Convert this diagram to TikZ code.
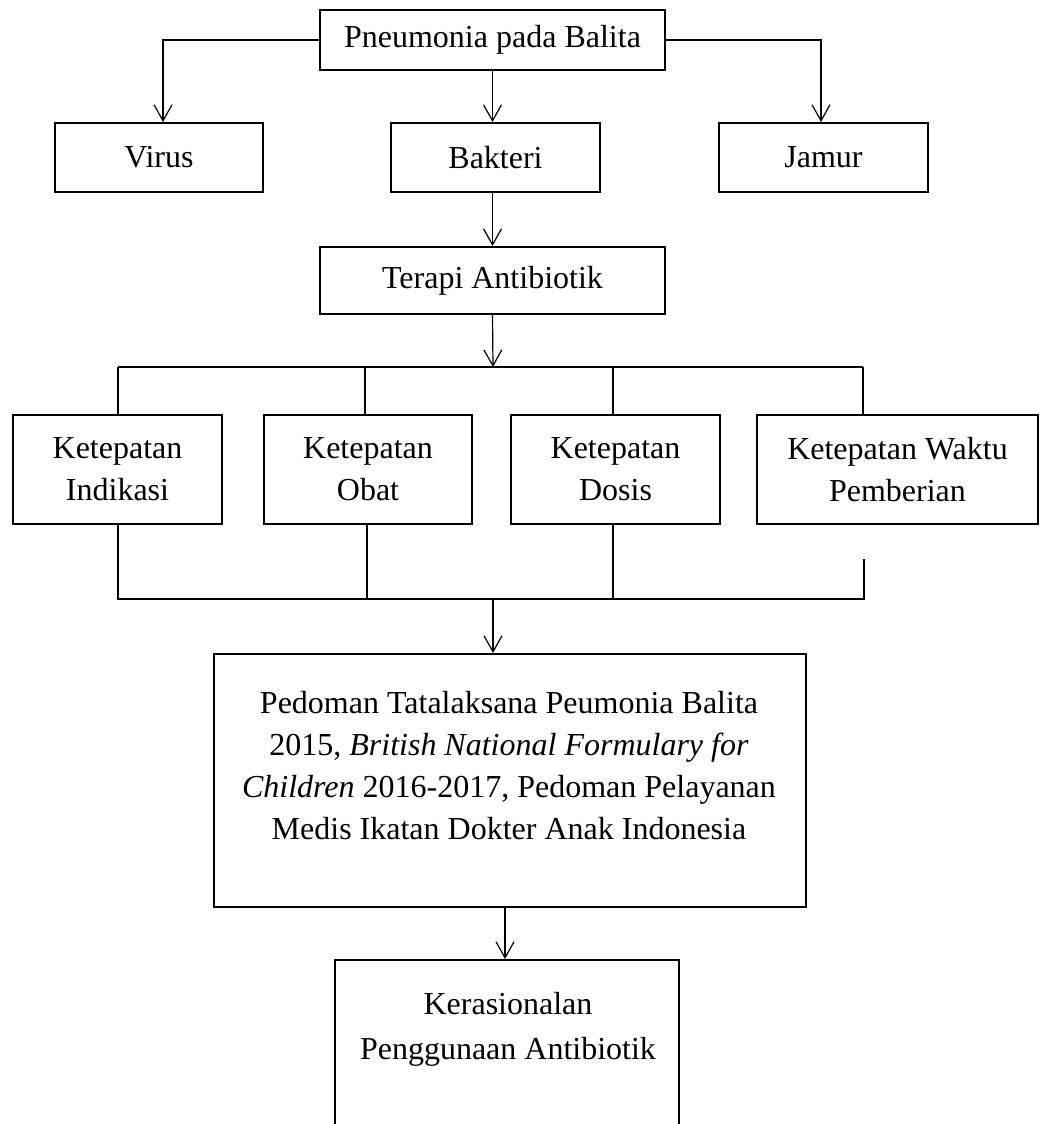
\documentclass[tikz,border=0pt]{standalone}
\usepackage{fontspec}
\setmainfont{Liberation Serif}
\usetikzlibrary{arrows.meta}
\begin{document}
\begin{tikzpicture}[x=1pt,y=-1pt,
 box/.style={draw,line width=2pt,inner sep=0pt,align=center,font=\fontsize{32}{41.7}\selectfont},
 conn/.style={line width=1.2pt},
 arr/.style={conn,-{Straight Barb[length=16pt,width=18pt,line width=1.2pt]}},
 txt/.style={align=center,inner sep=0pt,font=\fontsize{32}{41.7}\selectfont}]
\clip (0,0) rectangle (1040,1124);
\fill[white] (0,0) rectangle (1040,1124);
% top level
\node[box,minimum width=345pt,minimum height=60pt] (top) at (492.5,40) {Pneumonia pada Balita};
\node[box,minimum width=208pt,minimum height=69pt] (virus) at (159,157.5) {Virus};
\node[box,minimum width=209pt,minimum height=69pt] (bakteri) at (495.5,157.5) {Bakteri};
\node[box,minimum width=209pt,minimum height=69pt] (jamur) at (823.5,157.5) {Jamur};
\node[box,minimum width=345pt,minimum height=67pt] (terapi) at (492.5,280.5) {Terapi Antibiotik};
% criteria
\node[box,minimum width=209pt,minimum height=109pt] (k1) at (117.5,469.5) {Ketepatan\\Indikasi};
\node[box,minimum width=208pt,minimum height=109pt] (k2) at (368,469.5) {Ketepatan\\Obat};
\node[box,minimum width=209pt,minimum height=109pt] (k3) at (615.5,469.5) {Ketepatan\\Dosis};
\node[box,minimum width=281pt,minimum height=109pt] (k4) at (897.5,469.5) {Ketepatan Waktu\\Pemberian};
% guideline box
\node[box,minimum width=592pt,minimum height=253pt] (ped) at (509.5,780.5) {};
\node[txt] (pedt) at (509,765.5) {Pedoman Tatalaksana Peumonia Balita\\2015, \textit{British National Formulary for}\\\textit{Children} 2016-2017, Pedoman Pelayanan\\Medis Ikatan Dokter Anak Indonesia};
% result box (continues below the page)
\node[box,minimum width=344pt,minimum height=220pt] (ker) at (507,1070) {};
\node[txt,font=\fontsize{32}{45}\selectfont] (kert) at (508,1029.5) {Kerasionalan\\Penggunaan Antibiotik};
% coordinates
\coordinate (bus1) at (493,367);
\coordinate (b1a) at (118,367);
\coordinate (b1b) at (365,367);
\coordinate (b1c) at (613,367);
\coordinate (b1d) at (863,367);
\coordinate (bus2) at (493,599);
\coordinate (b2a) at (118,599);
\coordinate (b2b) at (367,599);
\coordinate (b2c) at (613,599);
\coordinate (b2d) at (864,599);
\coordinate (k4s) at (864,559);
% connectors
\draw[arr] (top.west) -| ([xshift=4pt]virus.north);
\draw[arr] (top.east) -| ([xshift=-2.5pt]jamur.north);
\draw[arr] (top.south) -- (top.south |- bakteri.north);
\draw[arr] (top.south |- bakteri.south) -- (terapi.north);
\draw[arr] (terapi.south) -- (bus1);
\draw[conn] (b1a) -- (b1d);
\draw[conn] (b1a) -- (b1a |- k1.north);
\draw[conn] (b1b) -- (b1b |- k2.north);
\draw[conn] (b1c) -- (b1c |- k3.north);
\draw[conn] (b1d) -- (b1d |- k4.north);
\draw[conn] (b2a |- k1.south) -- (b2a) -- (b2d) -- (k4s);
\draw[conn] (b2b |- k2.south) -- (b2b);
\draw[conn] (b2c |- k3.south) -- (b2c);
\draw[arr] (bus2) -- (bus2 |- ped.north);
\draw[arr] ([xshift=-4.5pt]ped.south) -- ([xshift=-2pt]ker.north);
\end{tikzpicture}
\end{document}
